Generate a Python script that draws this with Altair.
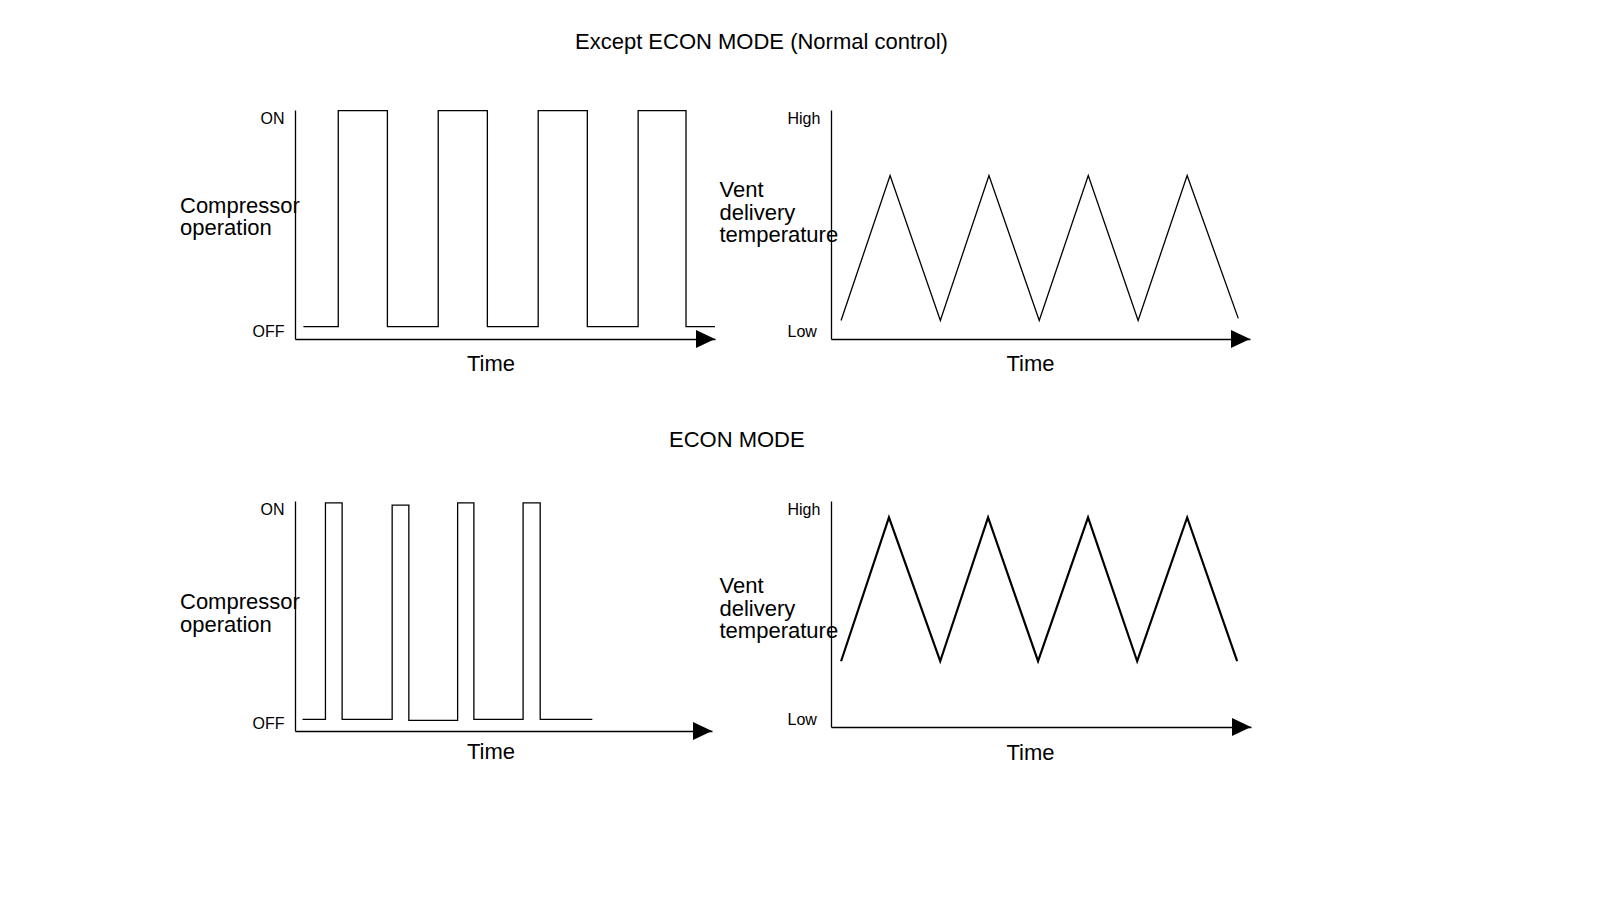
import altair as alt
import pandas as pd

FONT = "Liberation Sans"

TITLE_TOP = "Except ECON MODE (Normal control)"
TITLE_BOTTOM = "ECON MODE"
COMP_TITLE = ["Compressor", "operation"]
VENT_TITLE = ["Vent", "delivery", "temperature"]
X_TITLE = "Time"
COMP_LABELS = ["OFF", "ON"]
VENT_LABELS = ["Low", "High"]

TIME_DOMAIN = [0, 100]

# Normal control - compressor (step after each time)
N_COMP_T = [2.0, 10.3, 22.0, 34.1, 45.8, 57.9, 69.6, 81.7, 93.1, 100.0]
N_COMP_V = [0, 1, 0, 1, 0, 1, 0, 1, 0, 0]
N_COMP_DOMAIN = [-0.057, 1.003]

# Normal control - vent delivery temperature
N_VENT_T = [2.4, 14.1, 26.1, 37.7, 49.7, 61.4, 73.3, 85.0, 97.2]
N_VENT_V = [0.81, 7.14, 0.81, 7.14, 0.81, 7.14, 0.81, 7.14, 0.90]
VENT_DOMAIN = [0, 10]

# ECON mode - compressor
E_COMP_T = [1.8, 7.3, 11.3, 23.3, 27.3, 39.0, 42.9, 54.7, 58.8, 71.3]
E_COMP_V = [0, 1, 0, 0.99, -0.005, 1, 0, 1, 0, 0]
E_COMP_DOMAIN = [-0.054, 1.009]

# ECON mode - vent delivery temperature
E_VENT_T = [2.4, 13.8, 26.0, 37.4, 49.3, 61.2, 72.9, 84.8, 96.7]
E_VENT_V = [2.91, 9.27, 2.91, 9.27, 2.91, 9.27, 2.91, 9.27, 2.91]

ARROW = "M-2,-0.95L0,0L-2,0.95Z"


def panel(t, v, ydom, width, height, step, ytitle, labels, title_x, title_y,
          time_x, time_y, label_align, label_pad, stroke_w, title=None):
    df = pd.DataFrame({"t": t, "v": v})
    mid = (ydom[0] + ydom[1]) / 2
    xaxis = alt.Axis(
        title=X_TITLE, labels=False, ticks=False, grid=False,
        domainColor="black", domainWidth=1.3,
        titleFont=FONT, titleFontSize=22, titleFontWeight="normal", titleColor="black",
        titleX=time_x, titleY=time_y, titleAlign="center", titleBaseline="middle",
    )
    yaxis = alt.Axis(
        values=[ydom[0], ydom[1]],
        labelExpr=f"datum.value > {mid} ? '{labels[1]}' : '{labels[0]}'",
        labelFlush=True, labelFont=FONT, labelFontSize=16, labelColor="black",
        labelAlign=label_align, labelPadding=label_pad,
        ticks=False, grid=False, domainColor="black", domainWidth=1.3,
        title=ytitle, titleAngle=0, titleAlign="left", titleBaseline="middle",
        titleX=title_x, titleY=title_y, titleFont=FONT, titleFontSize=22,
        titleFontWeight="normal", titleColor="black", titleLineHeight=22.5,
    )
    X = alt.X("t:Q", scale=alt.Scale(domain=TIME_DOMAIN, nice=False, zero=False), axis=xaxis)
    Y = alt.Y("v:Q", scale=alt.Scale(domain=ydom, nice=False, zero=False), axis=yaxis)
    line = alt.Chart(df).mark_line(
        color="black", strokeWidth=stroke_w,
        interpolate="step-after" if step else "linear", strokeJoin="miter",
    ).encode(x=X, y=Y)
    arrow_df = pd.DataFrame({"t": [TIME_DOMAIN[1]], "v": [ydom[0]]})
    arrow = alt.Chart(arrow_df).mark_point(
        shape=ARROW, filled=True, size=361, color="black", opacity=1, strokeWidth=0,
    ).encode(x=X, y=Y)
    props = dict(width=width, height=height)
    if title is not None:
        props["title"] = title
    return alt.layer(line, arrow).properties(**props)


top_title = alt.TitleParams(
    text=TITLE_TOP, anchor="start", frame="group", dx=280, offset=37.5,
    baseline="alphabetic", fontSize=22, font=FONT, fontWeight="normal", color="black",
)
bottom_title = alt.TitleParams(
    text=TITLE_BOTTOM, anchor="start", frame="group", dx=374, offset=31,
    baseline="alphabetic", fontSize=22, font=FONT, fontWeight="normal", color="black",
)

tl = panel(N_COMP_T, N_COMP_V, N_COMP_DOMAIN, 420, 229, True, COMP_TITLE, COMP_LABELS,
           -115.5, 95.3, 195.5, 24, "right", 11, 1.3, top_title)
tr = panel(N_VENT_T, N_VENT_V, VENT_DOMAIN, 419, 229, False, VENT_TITLE, VENT_LABELS,
           -112, 79.5, 199, 24, "left", 44, 1.3)
bl = panel(E_COMP_T, E_COMP_V, E_COMP_DOMAIN, 417, 230, True, COMP_TITLE, COMP_LABELS,
           -115.5, 100.5, 195.5, 20, "right", 11, 1.3, bottom_title)
br = panel(E_VENT_T, E_VENT_V, VENT_DOMAIN, 420, 226, False, VENT_TITLE, VENT_LABELS,
           -112, 84.5, 199, 25, "left", 44, 2.2)

chart = alt.concat(
    tl, tr, bl, br, columns=2,
    spacing={"row": 162, "column": 116}, bounds="flush",
).properties(
    padding={"left": 171, "top": 22, "right": 10, "bottom": 10},
    background="white",
).configure_view(stroke=None)

chart.save("out.html", embed_options={"renderer": "svg", "actions": False})
